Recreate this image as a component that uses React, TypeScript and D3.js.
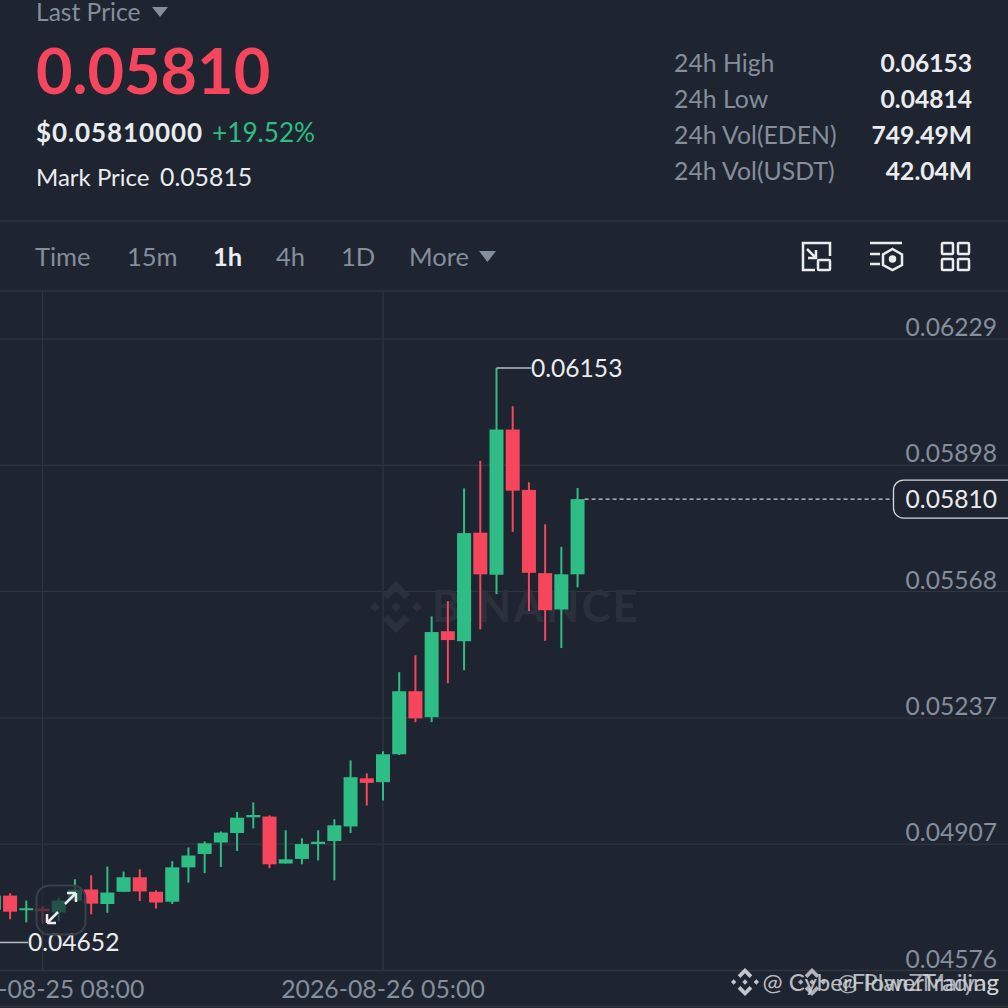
import React, { useRef, useEffect } from "react";
import * as d3 from "d3";

const BG = "#1f2530";
const UP = "#2ebd85";
const DOWN = "#f6465d";
const GRAY = "#848e9c";
const WHITE = "#eaecef";
const GRID = "#30363f";
const FONT = "Lato, sans-serif";

// hourly candles, the first one is 2026-08-25 05:00
const opens = [0.04735, 0.04772, 0.04735, 0.04738, 0.04728, 0.04759, 0.04788, 0.0475, 0.04782, 0.0482, 0.04782, 0.04756, 0.04846, 0.04881, 0.04911, 0.04936, 0.04977, 0.04979, 0.04856, 0.04868, 0.04907, 0.04915, 0.04953, 0.05079, 0.05069, 0.05142, 0.05307, 0.05239, 0.05464, 0.05438, 0.05722, 0.05612, 0.05992, 0.05834, 0.05616, 0.05521, 0.05613];
const highs = [0.04786, 0.04778, 0.04759, 0.04744, 0.04765, 0.04815, 0.04825, 0.04848, 0.04835, 0.04841, 0.04786, 0.04862, 0.04898, 0.04914, 0.0494, 0.04991, 0.05016, 0.04982, 0.04943, 0.04922, 0.04943, 0.04972, 0.05126, 0.05092, 0.0515, 0.05357, 0.05401, 0.05503, 0.05543, 0.05838, 0.0591, 0.06153, 0.06053, 0.05854, 0.05744, 0.05685, 0.05839];
const lows = [0.04725, 0.0471, 0.04702, 0.04699, 0.04707, 0.04759, 0.04723, 0.04727, 0.04782, 0.04758, 0.04738, 0.0475, 0.04806, 0.04831, 0.04847, 0.04889, 0.04948, 0.04844, 0.04856, 0.04854, 0.04864, 0.04812, 0.04936, 0.05008, 0.05021, 0.0514, 0.05226, 0.05226, 0.05328, 0.05362, 0.05469, 0.05561, 0.05724, 0.05517, 0.05439, 0.0542, 0.05579];
const closes = [0.04772, 0.0473, 0.04739, 0.04731, 0.04759, 0.04788, 0.04751, 0.0478, 0.0482, 0.04783, 0.04754, 0.04846, 0.04877, 0.04909, 0.04937, 0.04976, 0.04983, 0.04854, 0.04867, 0.04907, 0.04913, 0.04956, 0.05082, 0.05067, 0.05142, 0.05307, 0.05236, 0.05462, 0.05441, 0.05721, 0.05613, 0.05992, 0.05832, 0.05617, 0.05519, 0.05613, 0.0581];

const firstCandle = new Date(Date.UTC(2026, 7, 25, 5));
const priceTicks = [0.06229, 0.05898, 0.05568, 0.05237, 0.04907, 0.04576];
const timeTicks = [new Date(Date.UTC(2026, 7, 25, 8)), new Date(Date.UTC(2026, 7, 26, 5))];
const tabs = ["Time", "15m", "1h", "4h", "1D", "More"];
const tabX = [35, 127, 213, 276, 341, 409];
const statLabels = ["24h High", "24h Low", "24h Vol(EDEN)", "24h Vol(USDT)"];
const statValues = ["0.06153", "0.04814", "749.49M", "42.04M"];
const lastPrice = 0.0581;
const highMark = 0.06153;
const lowMark = 0.04652;

function logo(parent: any, cx: number, cy: number, r: number, fill: string, opacity = 1) {
  const shapes = [
    [[0, -1], [0.52, -0.48], [0.33, -0.29], [0, -0.62], [-0.33, -0.29], [-0.52, -0.48]],
    [[0, 1], [0.52, 0.48], [0.33, 0.29], [0, 0.62], [-0.33, 0.29], [-0.52, 0.48]],
    [[-0.19, 0], [0, -0.19], [0.19, 0], [0, 0.19]],
    [[-1, 0], [-0.81, -0.19], [-0.62, 0], [-0.81, 0.19]],
    [[1, 0], [0.81, -0.19], [0.62, 0], [0.81, 0.19]],
  ];
  parent
    .append("g")
    .attr("transform", `translate(${cx},${cy}) scale(${r})`)
    .attr("fill", fill)
    .attr("opacity", opacity)
    .selectAll("polygon")
    .data(shapes)
    .join("polygon")
    .attr("points", (d: number[][]) => d.map((p) => p.join(",")).join(" "));
}

const App: React.FC = () => {
  const svgRef = useRef<SVGSVGElement>(null);

  useEffect(() => {
    if (!svgRef.current) return;
    const svg = d3.select(svgRef.current);
    svg.selectAll("*").remove();
    svg.style("font-family", FONT);

    const times = opens.map((_, i) => d3.utcHour.offset(firstCandle, i));
    const x = d3.scaleUtc().domain(timeTicks).range([42.5, 383]);
    const y = d3
      .scaleLinear()
      .domain([priceTicks[priceTicks.length - 1], priceTicks[0]])
      .range([970.5, 339]);
    const bodyWidth = 14;

    svg.append("rect").attr("width", 1008).attr("height", 1008).attr("fill", BG);

    const label = (
      txt: string,
      px: number,
      py: number,
      size: number,
      fill: string,
      weight = 400,
      anchor = "start",
    ) =>
      svg
        .append("text")
        .attr("x", px)
        .attr("y", py)
        .attr("font-size", size)
        .attr("font-weight", weight)
        .attr("fill", fill)
        .attr("text-anchor", anchor)
        .text(txt);

    // header
    label("Last Price", 36, 21, 24.6, GRAY);
    svg.append("path").attr("d", "M152,7H168L160,17Z").attr("fill", GRAY);
    label("0.05810", 36, 94, 63, DOWN, 700);
    label("$0.05810000", 36, 142, 26, WHITE, 700).attr("letter-spacing", 0.9);
    label("+19.52%", 212, 142, 26.2, UP);
    label("Mark Price", 36, 186, 24, WHITE);
    label("0.05815", 160, 186, 24.8, WHITE);
    statLabels.forEach((s, i) => {
      label(s, 674, 72 + i * 36, 24.8, GRAY);
      label(statValues[i], 972, 72 + i * 36, 24.6, WHITE, 700, "end");
    });

    // toolbar
    svg.append("g").attr("stroke", GRID).attr("stroke-width", 1.5)
      .selectAll("line").data([221, 291, 970.5, 1006.5]).join("line")
      .attr("x1", 0).attr("x2", 1008).attr("y1", (d) => d).attr("y2", (d) => d);
    tabs.forEach((t, i) => {
      label(t, tabX[i], 266, 25.5, t === "1h" ? WHITE : GRAY, t === "1h" ? 700 : 400);
    });
    svg.append("path").attr("d", "M479,251H496L487.5,262Z").attr("fill", GRAY);

    const icons = svg.append("g").attr("fill", "none").attr("stroke", WHITE).attr("stroke-width", 2.5);
    icons.append("path").attr("d", "M815,270H803V243H830V256");
    icons.append("rect").attr("x", 818).attr("y", 260).attr("width", 12).attr("height", 10).attr("rx", 1);
    icons.append("path").attr("d", "M807,249L816,258M816,250V258H808");
    icons.append("path").attr("d", "M870,243H902M870,254H880M870,264H880");
    icons.append("path").attr("d", "M892.5,249L902,254.5V265L892.5,270L883,265V254.5Z");
    icons.append("circle").attr("cx", 892.5).attr("cy", 259).attr("r", 2.5).attr("fill", WHITE);
    [942, 958].forEach((ix) => {
      [243, 259].forEach((iy) => {
        icons.append("rect").attr("x", ix).attr("y", iy).attr("width", 11).attr("height", 11).attr("rx", 1);
      });
    });

    // grid
    const grid = svg.append("g").attr("stroke", GRID).attr("stroke-width", 1.2);
    grid.selectAll("line.h").data(priceTicks).join("line").attr("class", "h")
      .attr("x1", 0).attr("x2", 1008).attr("y1", (d) => y(d)).attr("y2", (d) => y(d));
    grid.selectAll("line.v").data(timeTicks).join("line").attr("class", "v")
      .attr("x1", (d) => x(d)).attr("x2", (d) => x(d)).attr("y1", 291).attr("y2", 970.5);

    // watermark
    logo(svg, 396, 607, 26, "#2b313c");
    label("BINANCE", 432, 622, 43, "#2b313c", 700).attr("letter-spacing", 2.5);

    // candles
    const candle = svg.append("g").selectAll("g").data(times).join("g")
      .attr("fill", (_, i) => (closes[i] >= opens[i] ? UP : DOWN))
      .attr("stroke", (_, i) => (closes[i] >= opens[i] ? UP : DOWN));
    candle.append("line")
      .attr("stroke-width", 2)
      .attr("x1", (d) => x(d)).attr("x2", (d) => x(d))
      .attr("y1", (_, i) => y(highs[i])).attr("y2", (_, i) => y(lows[i]));
    candle.append("rect")
      .attr("stroke", "none")
      .attr("x", (d) => x(d) - bodyWidth / 2)
      .attr("width", bodyWidth)
      .attr("y", (_, i) => y(Math.max(opens[i], closes[i])))
      .attr("height", (_, i) => Math.max(2, Math.abs(y(opens[i]) - y(closes[i]))));

    // high / low marks
    const highX = x(times[highs.indexOf(highMark)]);
    svg.append("line").attr("x1", highX).attr("x2", 531).attr("y1", y(highMark)).attr("y2", y(highMark))
      .attr("stroke", "#b7bdc6").attr("stroke-width", 1.5);
    label("0.06153", 531, y(highMark) + 9, 24.6, WHITE);
    svg.append("line").attr("x1", 0).attr("x2", 28).attr("y1", y(lowMark) + 1).attr("y2", y(lowMark) + 1)
      .attr("stroke", "#b7bdc6").attr("stroke-width", 1.5);
    label("0.04652", 28, y(lowMark) + 10, 24.6, WHITE);

    // price axis
    priceTicks.forEach((p) => {
      label(d3.format(".5f")(p), 997, y(p) - 3, 24.6, GRAY, 400, "end");
    });
    timeTicks.forEach((t) => {
      label(d3.utcFormat("%Y-%m-%d %H:%M")(t), x(t), 998, 24.8, GRAY, 400, "middle");
    });

    // last price line and tag
    const lastX = x(times[times.length - 1]);
    svg.append("line").attr("x1", lastX + 7).attr("x2", 893).attr("y1", y(lastPrice)).attr("y2", y(lastPrice))
      .attr("stroke", "#c9ced6").attr("stroke-width", 1.2).attr("stroke-dasharray", "4 3");
    svg.append("rect").attr("x", 893.5).attr("y", y(lastPrice) - 19).attr("width", 130).attr("height", 38).attr("rx", 10)
      .attr("fill", BG).attr("stroke", "#d5d8dd").attr("stroke-width", 1.3);
    label("0.05810", 997, y(lastPrice) + 9, 24.6, WHITE, 400, "end");

    // fullscreen button over the candles
    svg.append("rect").attr("x", 36.5).attr("y", 885.5).attr("width", 49).attr("height", 49).attr("rx", 13)
      .attr("fill", BG).attr("fill-opacity", 0.7).attr("stroke", "#3a404b").attr("stroke-width", 2);
    svg.append("path").attr("d", "M47,923L58,912M47,923V914M47,923H56M65,904L76,893M76,893H67M76,893V902")
      .attr("fill", "none").attr("stroke", WHITE).attr("stroke-width", 2.5);

    // bottom watermarks, two of them on top of each other
    logo(svg, 745, 982, 14, "#d5d8dd", 0.9);
    label("@ CyberFlowerTrading", 999, 991, 24, "#d5d8dd", 400, "end").attr("opacity", 0.85);
    logo(svg, 812, 982, 14, "#d5d8dd", 0.8);
    label("@ PlanZMaiyag", 999, 991, 24, "#d5d8dd", 400, "end").attr("opacity", 0.75);
  }, []);

  return (
    <svg
      ref={svgRef}
      width={1008}
      height={1008}
      style={{ position: "absolute", left: 0, top: 0 }}
    />
  );
};

export default App;
